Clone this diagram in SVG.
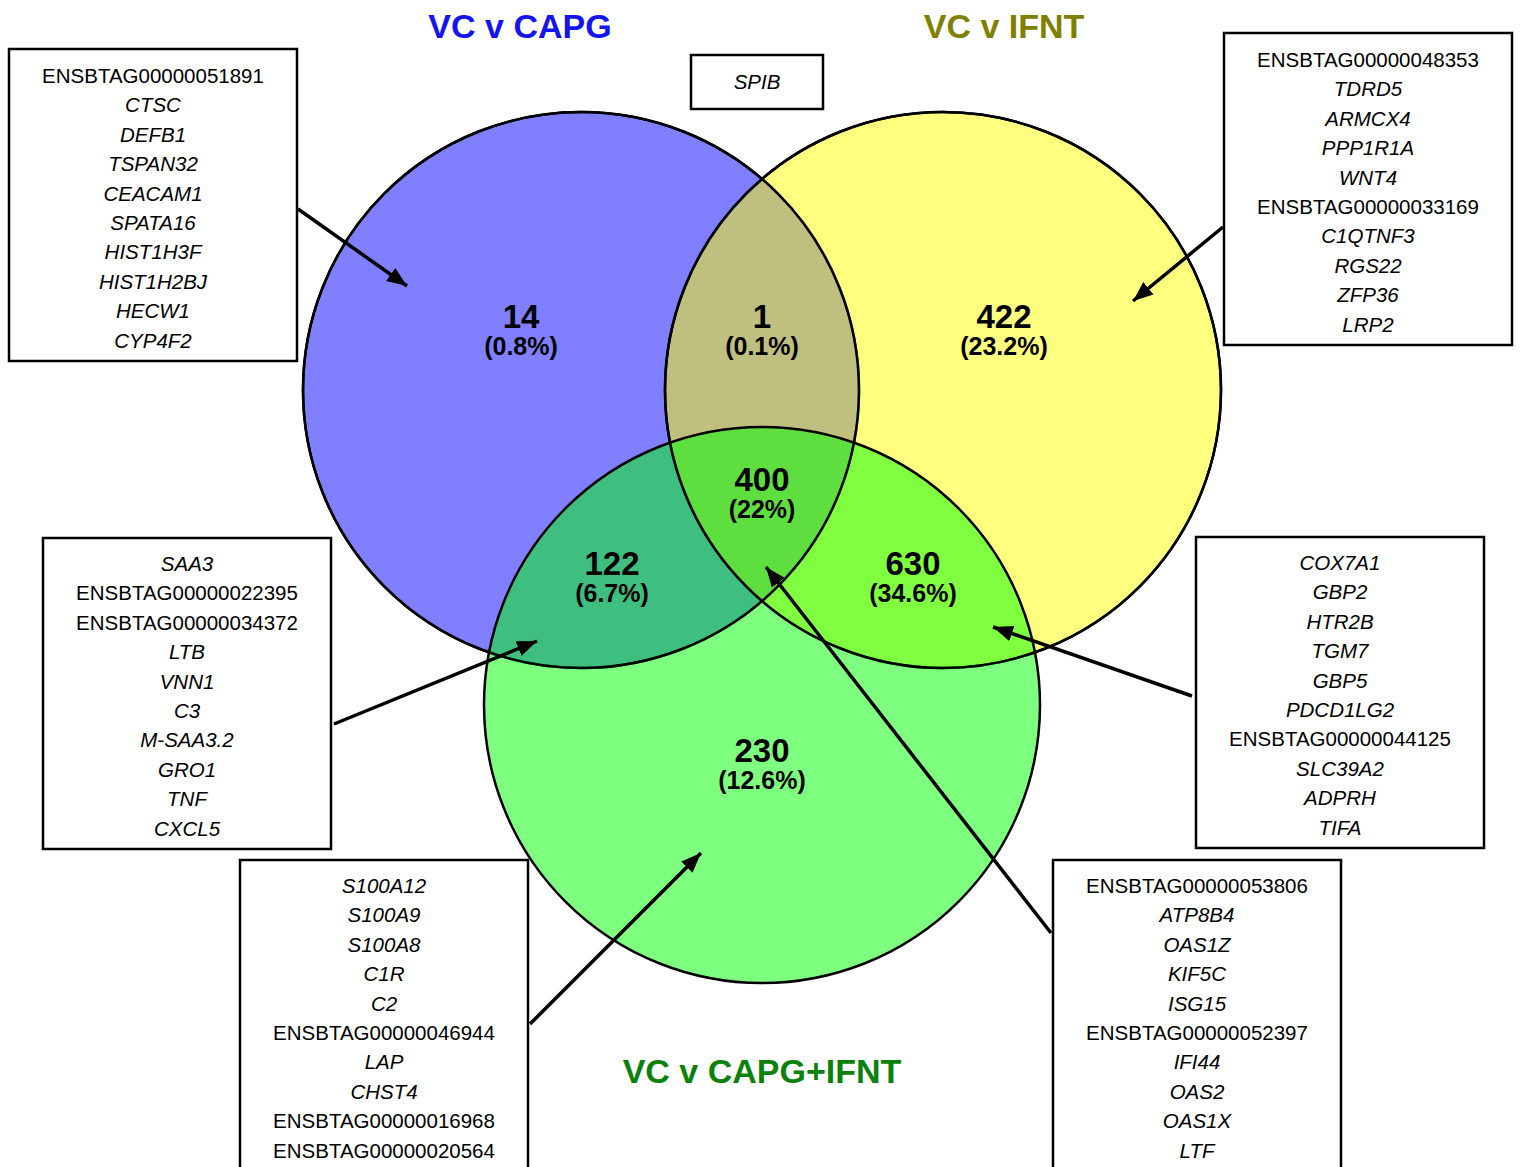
<svg xmlns="http://www.w3.org/2000/svg" width="1521" height="1167" viewBox="0 0 1521 1167">
<style>
.circ{stroke:#000;stroke-width:2.5;fill-opacity:0.5}
.title{font-family:"Liberation Sans",Arial,sans-serif;font-weight:bold;font-size:34px;text-anchor:middle}
.num{font-family:"Liberation Sans",Arial,sans-serif;font-weight:bold;font-size:33px;text-anchor:middle;fill:#000}
.pct{font-family:"Liberation Sans",Arial,sans-serif;font-weight:bold;font-size:25px;text-anchor:middle;fill:#000}
.box{fill:#fff;stroke:#000;stroke-width:2.5}
.g{font-family:"Liberation Sans",Arial,sans-serif;font-size:20.5px;text-anchor:middle;fill:#000;font-style:italic}
.e{font-style:normal}
.conn{stroke:#000;stroke-width:3.5;fill:none;marker-end:url(#ah)}
</style>
<defs>
<marker id="ah" markerUnits="userSpaceOnUse" markerWidth="22" markerHeight="17" refX="20" refY="8" orient="auto" viewBox="0 0 22 16">
<path d="M0,0 L20,8 L0,16 Z" fill="#000"/>
</marker>
</defs>
<rect width="1521" height="1167" fill="#fff"/>

<g id="sets">
<circle id="set-capg" class="circ" cx="581" cy="390" r="278" fill="#0000ff"/>
<circle id="set-ifnt" class="circ" cx="943" cy="390" r="278" fill="#ffff00"/>
<circle id="set-capg-ifnt" class="circ" cx="762" cy="705" r="278" fill="#00ff00"/>
<circle cx="581" cy="390" r="278" fill="none" stroke="#000" stroke-width="2.5"/>
<circle cx="943" cy="390" r="278" fill="none" stroke="#000" stroke-width="2.5"/>
</g>

<g id="titles">
<text class="title" x="520" y="38" fill="#1414f0">VC v CAPG</text>
<text class="title" x="1004" y="38" fill="#808000">VC v IFNT</text>
<text class="title" x="762" y="1083" fill="#0a820a">VC v CAPG+IFNT</text>
</g>

<g id="counts">
<text class="num" x="521" y="328">14</text><text class="pct" x="521" y="355">(0.8%)</text>
<text class="num" x="762" y="328">1</text><text class="pct" x="762" y="355">(0.1%)</text>
<text class="num" x="1004" y="328">422</text><text class="pct" x="1004" y="355">(23.2%)</text>
<text class="num" x="762" y="491">400</text><text class="pct" x="762" y="518">(22%)</text>
<text class="num" x="612" y="575">122</text><text class="pct" x="612" y="602">(6.7%)</text>
<text class="num" x="913" y="575">630</text><text class="pct" x="913" y="602">(34.6%)</text>
<text class="num" x="762" y="762">230</text><text class="pct" x="762" y="789">(12.6%)</text>
</g>

<g id="box-spib">
<rect class="box" x="691" y="55" width="132" height="54"/>
<text class="g" x="757" y="89">SPIB</text>
</g>

<g id="box-capg">
<rect class="box" x="9" y="49" width="288" height="312"/>
<text class="g" x="153" y="83"><tspan class="e">ENSBTAG00000051891</tspan><tspan x="153" dy="29.4">CTSC</tspan><tspan x="153" dy="29.4">DEFB1</tspan><tspan x="153" dy="29.4">TSPAN32</tspan><tspan x="153" dy="29.4">CEACAM1</tspan><tspan x="153" dy="29.4">SPATA16</tspan><tspan x="153" dy="29.4">HIST1H3F</tspan><tspan x="153" dy="29.4">HIST1H2BJ</tspan><tspan x="153" dy="29.4">HECW1</tspan><tspan x="153" dy="29.4">CYP4F2</tspan></text>
</g>

<g id="box-ifnt">
<rect class="box" x="1224" y="33" width="288" height="312"/>
<text class="g" x="1368" y="67"><tspan class="e">ENSBTAG00000048353</tspan><tspan x="1368" dy="29.4">TDRD5</tspan><tspan x="1368" dy="29.4">ARMCX4</tspan><tspan x="1368" dy="29.4">PPP1R1A</tspan><tspan x="1368" dy="29.4">WNT4</tspan><tspan x="1368" dy="29.4" class="e">ENSBTAG00000033169</tspan><tspan x="1368" dy="29.4">C1QTNF3</tspan><tspan x="1368" dy="29.4">RGS22</tspan><tspan x="1368" dy="29.4">ZFP36</tspan><tspan x="1368" dy="29.4">LRP2</tspan></text>
</g>

<g id="box-capg-capgifnt">
<rect class="box" x="43" y="538" width="288" height="311"/>
<text class="g" x="187" y="571"><tspan>SAA3</tspan><tspan x="187" dy="29.4" class="e">ENSBTAG00000022395</tspan><tspan x="187" dy="29.4" class="e">ENSBTAG00000034372</tspan><tspan x="187" dy="29.4">LTB</tspan><tspan x="187" dy="29.4">VNN1</tspan><tspan x="187" dy="29.4">C3</tspan><tspan x="187" dy="29.4">M-SAA3.2</tspan><tspan x="187" dy="29.4">GRO1</tspan><tspan x="187" dy="29.4">TNF</tspan><tspan x="187" dy="29.4">CXCL5</tspan></text>
</g>

<g id="box-ifnt-capgifnt">
<rect class="box" x="1196" y="537" width="288" height="311"/>
<text class="g" x="1340" y="570"><tspan>COX7A1</tspan><tspan x="1340" dy="29.4">GBP2</tspan><tspan x="1340" dy="29.4">HTR2B</tspan><tspan x="1340" dy="29.4">TGM7</tspan><tspan x="1340" dy="29.4">GBP5</tspan><tspan x="1340" dy="29.4">PDCD1LG2</tspan><tspan x="1340" dy="29.4" class="e">ENSBTAG00000044125</tspan><tspan x="1340" dy="29.4">SLC39A2</tspan><tspan x="1340" dy="29.4">ADPRH</tspan><tspan x="1340" dy="29.4">TIFA</tspan></text>
</g>

<g id="box-capgifnt">
<rect class="box" x="240" y="860" width="288" height="330"/>
<text class="g" x="384" y="893"><tspan>S100A12</tspan><tspan x="384" dy="29.4">S100A9</tspan><tspan x="384" dy="29.4">S100A8</tspan><tspan x="384" dy="29.4">C1R</tspan><tspan x="384" dy="29.4">C2</tspan><tspan x="384" dy="29.4" class="e">ENSBTAG00000046944</tspan><tspan x="384" dy="29.4">LAP</tspan><tspan x="384" dy="29.4">CHST4</tspan><tspan x="384" dy="29.4" class="e">ENSBTAG00000016968</tspan><tspan x="384" dy="29.4" class="e">ENSBTAG00000020564</tspan></text>
</g>

<g id="box-all">
<rect class="box" x="1053" y="860" width="288" height="330"/>
<text class="g" x="1197" y="893"><tspan class="e">ENSBTAG00000053806</tspan><tspan x="1197" dy="29.4">ATP8B4</tspan><tspan x="1197" dy="29.4">OAS1Z</tspan><tspan x="1197" dy="29.4">KIF5C</tspan><tspan x="1197" dy="29.4">ISG15</tspan><tspan x="1197" dy="29.4" class="e">ENSBTAG00000052397</tspan><tspan x="1197" dy="29.4">IFI44</tspan><tspan x="1197" dy="29.4">OAS2</tspan><tspan x="1197" dy="29.4">OAS1X</tspan><tspan x="1197" dy="29.4">LTF</tspan></text>
</g>

<g id="connectors">
<line class="conn" x1="298" y1="209" x2="407" y2="286"/>
<line class="conn" x1="1223" y1="227" x2="1133" y2="301"/>
<line class="conn" x1="334" y1="724" x2="537" y2="641"/>
<line class="conn" x1="1192" y1="696" x2="993" y2="627"/>
<line class="conn" x1="530" y1="1024" x2="701" y2="853"/>
<line class="conn" x1="1051" y1="933" x2="766" y2="567"/>
</g>
</svg>
